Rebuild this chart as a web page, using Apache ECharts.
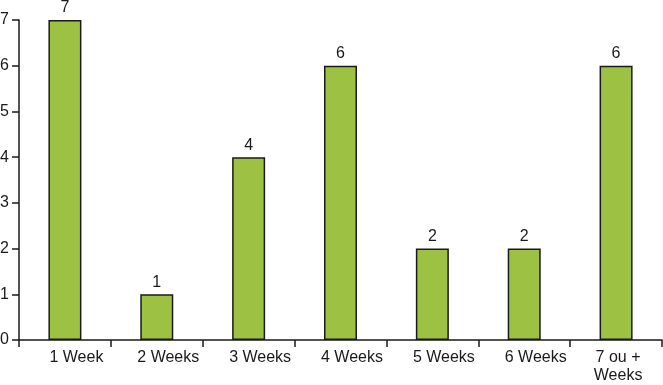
<!DOCTYPE html>
<html>
<head>
<meta charset="utf-8">
<script src="https://cdn.jsdelivr.net/npm/echarts@6/dist/echarts.min.js"></script>
<style>html,body{margin:0;padding:0;background:#fff}#c{width:663px;height:385px}</style>
</head>
<body>
<div id="c"></div>
<script>
const categories = ['1 Week', '2 Weeks', '3 Weeks', '4 Weeks', '5 Weeks', '6 Weeks', '7 ou +\nWeeks'];
const values = [7, 1, 4, 6, 2, 2, 6];
const yTicks = [0, 1, 2, 3, 4, 5, 6, 7];

const chart = echarts.init(document.getElementById('c'), null, {renderer: 'canvas'});
const font = 'Liberation Sans, Arial, Helvetica, sans-serif';
chart.setOption({
  animation: false,
  backgroundColor: '#fff',
  grid: {left: 19, right: 1, top: 20, bottom: 45, containLabel: false, outerBoundsMode: 'none'},
  xAxis: {
    type: 'category',
    data: categories.map((c, i) => i === categories.length - 1
      ? {value: c, textStyle: {padding: [0, 0, 0, 4]}}
      : {value: c}),
    axisLine: {lineStyle: {color: '#1a1a1a', width: 1.5}},
    axisTick: {show: true, length: 7, lineStyle: {color: '#1a1a1a', width: 1.5}},
    axisLabel: {color: '#1a1a1a', fontSize: 16, fontFamily: font, margin: 9, lineHeight: 18, padding: [0, 0, 0, 23], interval: 0}
  },
  yAxis: {
    type: 'value',
    min: yTicks[0],
    max: yTicks[yTicks.length - 1],
    interval: 1,
    splitLine: {show: false},
    axisLine: {show: true, lineStyle: {color: '#1a1a1a', width: 1.5}},
    axisTick: {show: true, length: 7, lineStyle: {color: '#1a1a1a', width: 1.5}},
    axisLabel: {color: '#1a1a1a', fontSize: 16, fontFamily: font, margin: 10}
  },
  series: [{
    type: 'bar',
    data: values,
    barWidth: 33,
    itemStyle: {color: '#9dc143', borderColor: '#1a1a1a', borderWidth: 1.5},
    label: {show: true, position: 'top', distance: 4, color: '#1a1a1a', fontSize: 16, fontFamily: font}
  }]
});
</script>
</body>
</html>
